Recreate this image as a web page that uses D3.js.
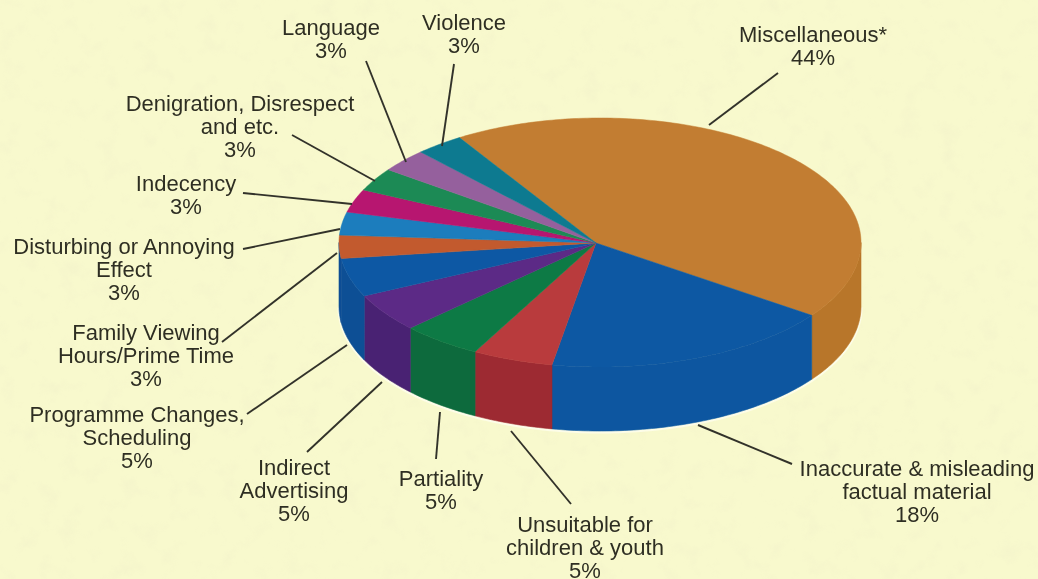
<!DOCTYPE html>
<html><head><meta charset="utf-8">
<script src="https://cdn.jsdelivr.net/npm/d3@7/dist/d3.min.js"></script>
<style>html,body{margin:0;padding:0;background:#f8f9cd;overflow:hidden}svg{display:block}</style>
</head><body><script>
const categories=["Miscellaneous*","Inaccurate & misleading factual material","Unsuitable for children & youth","Partiality","Indirect Advertising","Programme Changes, Scheduling","Family Viewing Hours/Prime Time","Disturbing or Annoying Effect","Indecency","Denigration, Disrespect and etc.","Language","Violence"];
const percentages=[44,18,5,5,5,5,3,3,3,3,3,3];
const topColors=["#c27d31","#0a59a3","#b93a3c","#0f7a45","#5b2a86","#0e59a4","#c25a2f","#1a7dbd","#b7136f","#1f8a55","#95609d","#0f7a90"];
const wallColors=["#b87629","#0a57a0","#9d2a31","#0b6b3e","#4a2373","#0c4f95","#0c4f95","#0c4f95","#b7136f","#1f8a55","#95609d","#0f7a90"];
const labelLines=[["Miscellaneous*","44%"],["Inaccurate & misleading","factual material","18%"],["Unsuitable for","children & youth","5%"],["Partiality","5%"],["Indirect","Advertising","5%"],["Programme Changes,","Scheduling","5%"],["Family Viewing","Hours/Prime Time","3%"],["Disturbing or Annoying","Effect","3%"],["Indecency","3%"],["Denigration, Disrespect","and etc.","3%"],["Language","3%"],["Violence","3%"]];
const labelCentres=[[813,42],[917,476],[585,532],[441,486],[294,475],[137,422],[146,340],[124,254],[186,191],[240,111],[331,35],[464,30]];
const leaderLines=[[778,73,709,125],[792,464,698,425],[571,504,511,431],[436,459,440,412],[307,452,382,382],[247,414,347,345],[222,342,337,253],[243,249,340,229],[243,193,352,204],[292,135,375,181],[366,61,406,162],[454,64,442,146]];

const W=1038,H=579,cx=600,cy=242.5,rx=261,ry=124.5,depth=64,apex=[596,243];
const deg=Math.PI/180;
const sx=d3.scaleLinear().domain([-1,1]).range([cx-rx,cx+rx]);
const sy=d3.scaleLinear().domain([-1,1]).range([cy-ry,cy+ry]);
const rim=a=>[sx(Math.sin(a)),sy(-Math.cos(a))];
const arcs=d3.pie().sort(null).startAngle(-32.6*deg).endAngle(327.4*deg)(percentages);
const line=d3.line();
const steps=(a,b)=>{const n=Math.max(2,Math.ceil((b-a)/deg));return d3.range(n+1).map(i=>a+(b-a)*i/n)};

const svg=d3.select("body").append("svg").attr("width",W).attr("height",H);
const defs=svg.append("defs");
const tex=defs.append("filter").attr("id","tex").attr("x",0).attr("y",0).attr("width","100%").attr("height","100%");
tex.append("feTurbulence").attr("type","fractalNoise").attr("baseFrequency",0.05).attr("numOctaves",4).attr("seed",7);
tex.append("feColorMatrix").attr("values","0 0 0 0 0.78  0 0 0 0 0.75  0 0 0 0 0.55  1.4 0 0 0 -0.72");
defs.append("filter").attr("id","soft").append("feGaussianBlur").attr("stdDeviation",0.5);
svg.append("rect").attr("width",W).attr("height",H).attr("fill","#f8f9cd");
svg.append("rect").attr("width",W).attr("height",H).attr("filter","url(#tex)").attr("opacity",0.3);

const g=svg.append("g").attr("filter","url(#soft)");
g.append("path").attr("fill","none").attr("stroke","#fdfde8").attr("stroke-width",3)
 .attr("d",line(steps(90*deg,270*deg).map(a=>{const p=rim(a);return [p[0],p[1]+depth+1]})));
const vis=[90*deg,270*deg];
g.selectAll("path.wall").data(arcs).join("path").attr("class","wall")
 .filter(d=>d.endAngle>vis[0]&&d.startAngle<vis[1])
 .attr("fill",d=>wallColors[d.index]).attr("stroke",d=>wallColors[d.index]).attr("stroke-width",0.6)
 .attr("d",d=>{
   const a=Math.max(d.startAngle,vis[0]),b=Math.min(d.endAngle,vis[1]);
   const up=steps(a,b).map(rim);
   const down=up.slice().reverse().map(p=>[p[0],p[1]+depth]);
   return line(up.concat(down))+"Z";
 });
g.selectAll("path.top").data(arcs).join("path").attr("class","top")
 .attr("fill",d=>topColors[d.index]).attr("stroke",d=>topColors[d.index]).attr("stroke-width",0.5)
 .attr("d",d=>line([apex].concat(steps(d.startAngle,d.endAngle).map(rim)))+"Z");
g.selectAll("line.leader").data(leaderLines).join("line").attr("class","leader")
 .attr("x1",d=>d[0]).attr("y1",d=>d[1]).attr("x2",d=>d[2]).attr("y2",d=>d[3])
 .attr("stroke","#33332a").attr("stroke-width",1.9);
const lab=g.selectAll("text.label").data(labelLines).join("text").attr("class","label")
 .attr("text-anchor","middle").attr("font-family","'Liberation Sans',Arial,sans-serif").attr("font-size",22).attr("fill","#2f2f24");
lab.selectAll("tspan").data((d,i)=>d.map((t,j)=>({t,j,i}))).join("tspan")
 .attr("x",d=>labelCentres[d.i][0]).attr("y",d=>labelCentres[d.i][1]+d.j*23).text(d=>d.t);
</script></body></html>
